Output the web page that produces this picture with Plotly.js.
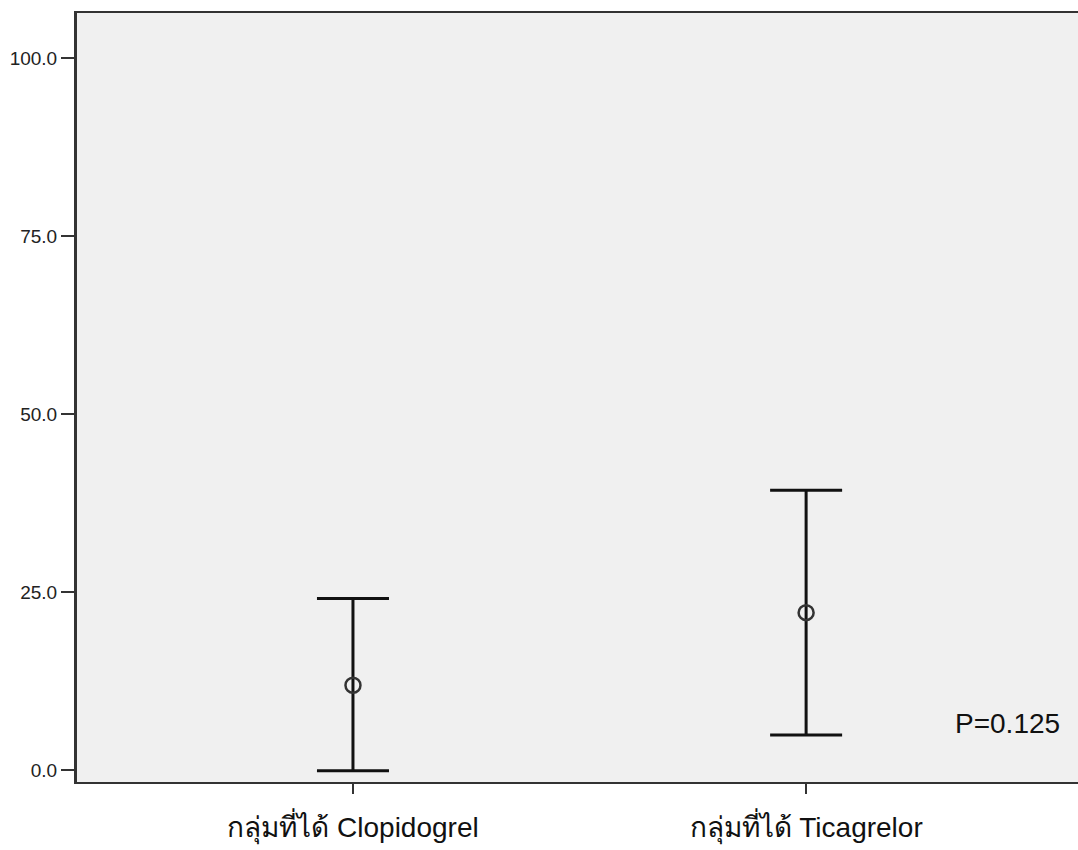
<!DOCTYPE html>
<html>
<head>
<meta charset="utf-8">
<script src="https://cdn.plot.ly/plotly-3.0.1.min.js"></script>
<style>
html,body{margin:0;padding:0;background:#fff;}
#chart{width:1078px;height:850px;}
</style>
</head>
<body>
<div id="chart"></div>
<script>
const categories = ["กลุ่มที่ได้ Clopidogrel", "กลุ่มที่ได้ Ticagrelor"];
const means = [11.9, 22.1];
const upperCI = [24.1, 39.3];
const lowerCI = [-0.1, 4.9];
const yTickVals = [0, 25, 50, 75, 100];
const pText = "P=0.125";

const errPlus = upperCI.map((u, i) => u - means[i]);
const errMinus = lowerCI.map((l, i) => means[i] - l);

const trace = {
  type: "scatter",
  mode: "markers",
  x: [0, 1],
  y: means,
  marker: {symbol: "circle-open", size: 15, color: "#333333", line: {width: 2.5, color: "#333333"}},
  error_y: {
    type: "data",
    symmetric: false,
    array: errPlus,
    arrayminus: errMinus,
    color: "#111111",
    thickness: 3,
    width: 36
  },
  hoverinfo: "skip",
  showlegend: false,
  cliponaxis: false
};

const font = "'Liberation Sans', Arial, sans-serif";

const layout = {
  width: 1078,
  height: 850,
  margin: {l: 77, r: 0, t: 13, b: 68},
  paper_bgcolor: "#ffffff",
  plot_bgcolor: "#f0f0f0",
  showlegend: false,
  font: {family: font, color: "#222222"},
  xaxis: {
    range: [-0.609, 1.6],
    tickmode: "array",
    tickvals: [0, 1],
    ticktext: categories,
    ticks: "outside",
    ticklen: 10,
    tickwidth: 2,
    tickcolor: "#333333",
    ticklabelstandoff: 9,
    showgrid: false,
    zeroline: false,
    showline: true,
    linecolor: "#333333",
    linewidth: 2,
    mirror: true,
    tickfont: {size: 28, family: font, color: "#111111"},
    fixedrange: true
  },
  yaxis: {
    range: [-1.685, 106.32],
    tickmode: "array",
    tickvals: yTickVals,
    ticktext: yTickVals.map(v => v.toFixed(1)),
    ticks: "outside",
    ticklen: 13,
    tickwidth: 2,
    tickcolor: "#333333",
    showgrid: false,
    zeroline: false,
    showline: true,
    linecolor: "#333333",
    linewidth: 3,
    tickfont: {size: 19, family: font, color: "#222222"},
    fixedrange: true
  },
  annotations: [{
    x: 1.444, y: 6.5, xref: "x", yref: "y",
    text: pText,
    showarrow: false,
    font: {size: 28, family: font, color: "#111111"},
    xanchor: "center", yanchor: "middle"
  }]
};

Plotly.newPlot("chart", [trace], layout, {displayModeBar: false, staticPlot: true});
</script>
</body>
</html>
